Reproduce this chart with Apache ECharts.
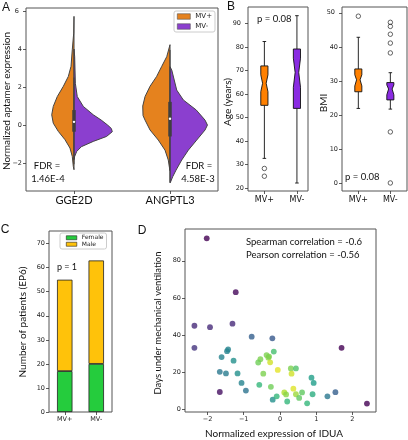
<!DOCTYPE html>
<html>
<head>
<meta charset="utf-8">
<script src="https://cdn.jsdelivr.net/npm/echarts@6/dist/echarts.min.js"></script>
<style>html,body{margin:0;padding:0;background:#fff}#c{width:408px;height:440px}</style>
</head>
<body>
<div id="c"></div>
<script>
// ---------- Panel A: split violins ----------
const aCategories = ['GGE2D', 'ANGPTL3'];
const aGroups = ['MV+', 'MV-'];
// density profiles: [aptamer value, half width in category-band units]
const violinMVplus = [
  [[5.72,0],[4.84,0.003],[3.96,0.018],[3.09,0.031],[2.56,0.059],[2.04,0.111],[1.5,0.174],[0.98,0.216],[0.54,0.232],[0.1,0.216],[-0.33,0.164],[-0.77,0.094],[-1.21,0.042],[-1.65,0.018],[-2.18,0.007],[-2.35,0]],
  [[4.23,0],[3.6,0.034],[3.09,0.086],[2.56,0.139],[2.04,0.208],[1.5,0.26],[1.0,0.284],[0.5,0.281],[0.26,0.26],[-0.26,0.208],[-0.79,0.122],[-1.32,0.052],[-1.84,0.018],[-2.2,0.007],[-2.4,0]]
];
const violinMVminus = [
  [[4.0,0],[3.6,0.007],[2.2,0.014],[1.5,0.034],[0.98,0.097],[0.54,0.201],[0.26,0.284],[0.0,0.35],[-0.18,0.389],[-0.35,0.399],[-0.6,0.339],[-0.86,0.201],[-1.14,0.076],[-1.39,0.028],[-1.65,0.007],[-1.82,0]],
  [[3.07,0],[2.9,0.018],[1.84,0.07],[1.32,0.139],[0.79,0.274],[0.26,0.365],[0,0.39],[-0.26,0.365],[-0.79,0.278],[-1.32,0.191],[-1.84,0.122],[-2.37,0.063],[-2.72,0.028],[-2.98,0.007],[-3.05,0]]
];
// inner box: [category, whisker low, q1, median, q3, whisker high]
const aInnerBox = [[0,-2.06,-0.35,0.17,0.79,2.5],[1,-3.0,-0.6,0.33,1.22,3.95]];
const aYTicks = [-2, 0, 2, 4, 6];
const aFDR = ['1.46E-4', '4.58E-3'];

// ---------- Panel B: notched boxplots ----------
const bGroups = ['MV+', 'MV-'];
// [position, whisker low, q1, notch low, median, notch high, q3, whisker high]
const ageBoxes = [[1,32.6,55.2,61.0,64.6,68.2,72.0,82.4],[2,22.1,53.9,62.9,69.2,75.3,79.2,93.4]];
const ageOutliers = [[1,28.3],[1,25.0]];
const ageTicks = [20,30,40,50,60,70,80,90];
const bmiBoxes = [[1,21.9,26.8,28.5,30.3,31.8,33.5,42.8],[2,21.7,24.4,25.9,27.6,28.8,29.5,32.4]];
const bmiOutliers = [[1,49.0],[2,47.2],[2,46.0],[2,43.7],[2,41.1],[2,38.2],[2,15.0],[2,0.0]];
const bmiTicks = [0,10,20,30,40,50];

// ---------- Panel C: stacked bars ----------
const cGroups = ['MV+', 'MV-'];
const cFemale = [17, 20];
const cMale = [38, 43];
const cTicks = [0,10,20,30,40,50,60,70];

// ---------- Panel D: scatter ----------
// [IDUA expression, days under MV, point density colour (0..1)]
const dPoints = [
  [-2.02,92.1,0.0],[-1.22,63.1,0.02],[-2.36,45.0,0.12],[-1.93,44.2,0.12],[-1.31,46.1,0.12],
  [-2.36,33.1,0.15],[-0.78,39.1,0.3],[-0.21,38.2,0.28],[1.70,33.1,0.0],[2.40,3.1,0.0],
  [-1.66,9.3,0.04],[-1.43,32.2,0.45],[-1.46,31.3,0.45],[-1.61,28.1,0.45],[-1.28,26.2,0.5],
  [-1.66,20.2,0.4],[-1.49,19.3,0.42],[-1.17,19.3,0.5],[-1.06,14.2,0.45],[-0.94,10.1,0.38],
  [-0.17,31.1,0.7],[-0.37,29.2,0.8],[-0.54,27.0,0.8],[-0.60,25.2,0.78],[-0.32,27.8,0.82],
  [-0.27,25.3,0.93],[-0.30,28.4,0.8],[-0.06,21.2,0.96],[-0.46,19.2,0.8],[-0.57,13.2,0.66],
  [-0.25,12.1,0.78],[-0.20,5.2,0.5],[-0.09,7.0,0.66],[0.12,9.1,0.88],[0.17,8.0,0.82],
  [0.20,4.2,0.66],[0.37,11.1,0.95],[0.30,22.0,0.8],[0.44,22.0,0.72],[0.32,19.2,0.93],
  [0.44,8.1,0.85],[0.53,6.1,0.75],[0.61,9.1,0.75],[0.75,3.2,0.66],[0.87,17.0,0.56],
  [0.93,14.2,0.55],[0.90,8.1,0.62],[1.31,7.0,0.4],[1.53,9.2,0.3]
];
const dXTicks = [-2,-1,0,1,2];
const dYTicks = [0,20,40,60,80];
const dStats = ['Spearman correlation = -0.6', 'Pearson correlation = -0.56'];

const viridis = ['#440154','#482878','#3e4989','#31688e','#26828e','#1f9e89','#35b779','#6ece58','#b5de2b','#fde725'];
const ORANGE_A = '#e5821e', PURPLE_A = '#8b3fcf';
const ORANGE_B = '#ff8000', PURPLE_B = '#8a2be2';
const GREEN = '#25cc3d', YELLOW = '#ffc20a';
const TICKFONT = 'DejaVu Sans';
const LFONT = 'Lato';
const minus = v => String(v).replace('-', '\u2212');

// top tick label of the three upper panels is drawn as graphic text (see end of file)
const topLabelAxes = [0, 1, 2];
const yTickSets = [aYTicks, ageTicks, bmiTicks, cTicks, dYTicks];

function valueAxis(gi, min, max, ticks, labelValues) {
  return {
    type: 'value', gridIndex: gi, min: min, max: max,
    axisLine: {show: false, onZero: false},
    axisTick: {show: true, length: 3, lineStyle: {color: '#333', width: 0.8}, customValues: ticks},
    axisLabel: {customValues: labelValues || ticks, fontSize: 6.5, fontFamily: TICKFONT, color: '#222', margin: 4, formatter: minus},
    splitLine: {show: false}
  };
}

function violinRender(profiles, side) {
  return function (params, api) {
    const prof = profiles[params.dataIndex];
    const cat = api.value(0);
    const band = api.size([1, 0])[0];
    const pts = prof.map(p => {
      const c = api.coord([cat, p[0]]);
      return [c[0] + side * p[1] * band, c[1]];
    });
    return {type: 'polygon', shape: {points: pts}, style: {fill: side < 0 ? ORANGE_A : PURPLE_A, stroke: '#444', lineWidth: 1}};
  };
}

function innerBoxRender(params, api) {
  const x = api.value(0);
  const lo = api.coord([x, api.value(1)]), q1 = api.coord([x, api.value(2)]);
  const md = api.coord([x, api.value(3)]), q3 = api.coord([x, api.value(4)]), hi = api.coord([x, api.value(5)]);
  return {type: 'group', children: [
    {type: 'line', shape: {x1: lo[0], y1: lo[1], x2: hi[0], y2: hi[1]}, style: {stroke: '#3f3f3f', lineWidth: 1}},
    {type: 'line', shape: {x1: q1[0], y1: q1[1], x2: q3[0], y2: q3[1]}, style: {stroke: '#3f3f3f', lineWidth: 3.5}},
    {type: 'circle', shape: {cx: md[0], cy: md[1], r: 1.2}, style: {fill: '#fff'}}
  ]};
}

function notchRender(colors) {
  return function (params, api) {
    const x = api.value(0);
    const hw = api.size([0.11, 0])[0];
    const P = v => api.coord([x, v]);
    const cx = P(api.value(4))[0];
    const wl = P(api.value(1))[1], q1 = P(api.value(2))[1], nl = P(api.value(3))[1];
    const md = P(api.value(4))[1], nh = P(api.value(5))[1], q3 = P(api.value(6))[1], wh = P(api.value(7))[1];
    const pts = [[cx-hw,q1],[cx-hw,nl],[cx-hw/2,md],[cx-hw,nh],[cx-hw,q3],[cx+hw,q3],[cx+hw,nh],[cx+hw/2,md],[cx+hw,nl],[cx+hw,q1]];
    const ls = {stroke: '#111', lineWidth: 0.9};
    return {type: 'group', children: [
      {type: 'line', shape: {x1: cx, y1: q3, x2: cx, y2: wh}, style: ls},
      {type: 'line', shape: {x1: cx, y1: q1, x2: cx, y2: wl}, style: ls},
      {type: 'line', shape: {x1: cx-hw/2, y1: wh, x2: cx+hw/2, y2: wh}, style: ls},
      {type: 'line', shape: {x1: cx-hw/2, y1: wl, x2: cx+hw/2, y2: wl}, style: ls},
      {type: 'polygon', shape: {points: pts}, style: {fill: colors[params.dataIndex], stroke: '#111', lineWidth: 0.9}}
    ]};
  };
}

function txt(text, x, y, size, opts) {
  return Object.assign({
    type: 'text', x: x, y: y, silent: true, z: 100,
    style: Object.assign({text: text, fontSize: size, fontFamily: LFONT, fill: '#111', align: 'center', verticalAlign: 'middle'}, (opts && opts.style) || {})
  }, opts && opts.rotation ? {rotation: opts.rotation} : {});
}

const grids = [
  {left: 26, top: 8, width: 192, height: 183},
  {left: 248, top: 7, width: 60, height: 184},
  {left: 342, top: 7, width: 65, height: 184},
  {left: 49, top: 231, width: 63, height: 181},
  {left: 185, top: 229, width: 191, height: 183}
].map(g => Object.assign(g, {show: true, borderColor: '#555', borderWidth: 1, backgroundColor: 'transparent'}));

const bLabel = v => bGroups[Math.round(v) - 1];
const bXAxis = (gi, min, max) => {
  const a = valueAxis(gi, min, max, [1, 2]);
  a.axisLabel = {customValues: [1, 2], fontSize: 8, fontFamily: TICKFONT, color: '#111', margin: 5, formatter: bLabel};
  return a;
};

const option = {
  animation: false,
  grid: grids,
  xAxis: [
    {type: 'category', gridIndex: 0, data: aCategories, boundaryGap: true,
      axisLine: {show: false, onZero: false}, axisTick: {show: true, alignWithLabel: true, length: 3, lineStyle: {color: '#333', width: 0.8}},
      axisLabel: {fontSize: 11, fontFamily: LFONT, color: '#111', margin: 4}, splitLine: {show: false}},
    bXAxis(1, 0.497, 2.34),
    bXAxis(2, 0.49, 2.52),
    {type: 'category', gridIndex: 3, data: cGroups, boundaryGap: true,
      axisLine: {show: false, onZero: false}, axisTick: {show: true, alignWithLabel: true, length: 3, lineStyle: {color: '#333', width: 0.8}},
      axisLabel: {fontSize: 6.5, fontFamily: TICKFONT, color: '#222', margin: 4}, splitLine: {show: false}},
    valueAxis(4, -2.62, 2.65, dXTicks)
  ],
  yAxis: [
    valueAxis(0, -3.47, 6.16, aYTicks, aYTicks.slice(0, -1)),
    valueAxis(1, 18.7, 97.1, ageTicks, ageTicks.slice(0, -1)),
    valueAxis(2, -2.36, 51.7, bmiTicks, bmiTicks.slice(0, -1)),
    valueAxis(3, 0, 75.25, cTicks),
    valueAxis(4, -1.46, 97.1, dYTicks)
  ],
  legend: [
    {data: aGroups, left: 174, top: 11, orient: 'vertical', icon: 'rect', itemWidth: 13, itemHeight: 5.5, itemGap: 3,
      padding: [2, 3, 2, 3], borderColor: '#ccc', borderWidth: 1, borderRadius: 2, backgroundColor: 'rgba(255,255,255,0.8)',
      itemStyle: {borderColor: '#555', borderWidth: 0.6},
      textStyle: {fontSize: 7, fontFamily: TICKFONT, color: '#222'}, selectedMode: false},
    {data: ['Female', 'Male'], left: 60, top: 233, orient: 'vertical', icon: 'rect', itemWidth: 10.5, itemHeight: 4, itemGap: 0,
      padding: [1.5, 3, 1.5, 6], borderColor: '#ccc', borderWidth: 1, borderRadius: 2, backgroundColor: 'rgba(255,255,255,0.8)',
      itemStyle: {borderColor: '#222', borderWidth: 0.6},
      textStyle: {fontSize: 6, fontFamily: TICKFONT, color: '#222', lineHeight: 6.5}, selectedMode: false}
  ],
  visualMap: {show: false, seriesIndex: 9, dimension: 2, min: 0, max: 1, inRange: {color: viridis}},
  series: [
    {type: 'custom', name: 'MV+', xAxisIndex: 0, yAxisIndex: 0, data: [[0, 0], [1, 0]], renderItem: violinRender(violinMVplus, -1),
      itemStyle: {color: ORANGE_A}, z: 2},
    {type: 'custom', name: 'MV-', xAxisIndex: 0, yAxisIndex: 0, data: [[0, 0], [1, 0]], renderItem: violinRender(violinMVminus, 1),
      itemStyle: {color: PURPLE_A}, z: 2},
    {type: 'custom', name: 'innerBox', xAxisIndex: 0, yAxisIndex: 0, data: aInnerBox, renderItem: innerBoxRender, z: 3},
    {type: 'custom', name: 'ageBox', xAxisIndex: 1, yAxisIndex: 1, data: ageBoxes, renderItem: notchRender([ORANGE_B, PURPLE_B])},
    {type: 'scatter', name: 'ageOut', xAxisIndex: 1, yAxisIndex: 1, data: ageOutliers, symbol: 'circle', symbolSize: 4.5,
      itemStyle: {color: 'rgba(0,0,0,0)', borderColor: '#111', borderWidth: 0.8}},
    {type: 'custom', name: 'bmiBox', xAxisIndex: 2, yAxisIndex: 2, data: bmiBoxes, renderItem: notchRender([ORANGE_B, PURPLE_B])},
    {type: 'scatter', name: 'bmiOut', xAxisIndex: 2, yAxisIndex: 2, data: bmiOutliers, symbol: 'circle', symbolSize: 4.5,
      itemStyle: {color: 'rgba(0,0,0,0)', borderColor: '#111', borderWidth: 0.8}},
    {type: 'bar', name: 'Female', xAxisIndex: 3, yAxisIndex: 3, stack: 'sex', data: cFemale, barWidth: '49%',
      itemStyle: {color: GREEN, borderColor: '#222', borderWidth: 0.8}},
    {type: 'bar', name: 'Male', xAxisIndex: 3, yAxisIndex: 3, stack: 'sex', data: cMale, barWidth: '49%',
      itemStyle: {color: YELLOW, borderColor: '#222', borderWidth: 0.8}},
    {type: 'scatter', name: 'IDUA', xAxisIndex: 4, yAxisIndex: 4, data: dPoints, symbolSize: 5.8}
  ],
  graphic: [
    txt('A', 6, 8, 12, {style: {fontFamily: 'Liberation Sans'}}),
    txt('B', 231, 7, 12, {style: {fontFamily: 'Liberation Sans'}}),
    txt('C', 5, 230, 12, {style: {fontFamily: 'Liberation Sans'}}),
    txt('D', 142, 231, 12, {style: {fontFamily: 'Liberation Sans'}}),
    txt('Normalized aptamer expression', 7, 101, 10, {rotation: Math.PI / 2}),
    txt('FDR =', 47, 166, 9.5),
    txt(aFDR[0], 48, 179, 9.5),
    txt('FDR =', 199, 166, 9.5),
    txt(aFDR[1], 198, 179, 9.5),
    txt('Age (years)', 228, 102, 10, {rotation: Math.PI / 2}),
    txt('BMI', 324, 103, 10, {rotation: Math.PI / 2}),
    txt('p = 0.08', 257, 19, 9.5, {style: {align: 'left'}}),
    txt('p = 0.08', 345, 177, 9.5, {style: {align: 'left'}}),
    txt('Number of patients (EP6)', 22.5, 322, 10, {rotation: Math.PI / 2}),
    txt('p = 1', 57, 267, 9, {style: {align: 'left'}}),
    txt('Days under mechanical ventilation', 158, 323, 9.5, {rotation: Math.PI / 2}),
    txt('Normalized expression of IDUA', 274, 434, 10),
    txt(dStats[0], 246, 242, 9.5, {style: {align: 'left'}}),
    txt(dStats[1], 246, 255, 9.5, {style: {align: 'left'}})
  ]
};

const chart = echarts.init(document.getElementById('c'), null, {renderer: 'canvas', width: 408, height: 440});
chart.setOption(option);

// top tick labels of the upper panels, placed through each axis scale
const topLabels = topLabelAxes.map(i => {
  const ticks = yTickSets[i];
  const v = ticks[ticks.length - 1];
  const py = chart.convertToPixel({yAxisIndex: i}, v);
  return txt(minus(v), grids[i].left - 7, py, 6.5, {style: {fontFamily: TICKFONT, fill: '#222', align: 'right'}});
});
chart.setOption({graphic: option.graphic.concat(topLabels)});
</script>
</body>
</html>
